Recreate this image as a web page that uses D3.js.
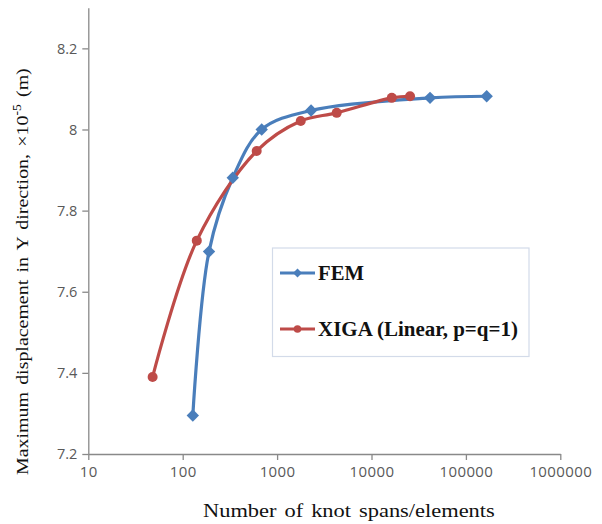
<!DOCTYPE html>
<html><head><meta charset="utf-8">
<script src="https://cdn.jsdelivr.net/npm/d3@7"></script>
<style>body{margin:0;background:#fff}svg{display:block}</style>
</head><body>
<script>
const femX = [128, 190, 339, 687, 2290, 41700, 166000];
const femY = [7.295, 7.699, 7.881, 8.000, 8.047, 8.078, 8.082];
const xigaX = [48, 141, 608, 1780, 4280, 16400, 25600];
const xigaY = [7.390, 7.726, 7.947, 8.021, 8.041, 8.078, 8.082];
const xTicks = [10, 100, 1000, 10000, 100000, 1000000];
const yTicks = [7.2, 7.4, 7.6, 7.8, 8.0, 8.2];
const seriesNames = ["FEM", "XIGA (Linear, p=q=1)"];
const colors = ["#4a7ebb", "#be4b48"];

const W = 602, H = 524;
const svg = d3.select("body").append("svg").attr("width", W).attr("height", H);
const x = d3.scaleLog().domain([10, 1000000]).range([88.3, 560.3]);
const y = d3.scaleLinear().domain([7.2, 8.3]).range([454, 7.8]);
const axisColor = "#898989";
const serif = "Liberation Serif, Times New Roman, serif";

// Y axis
const ya = svg.append("g").attr("transform", "translate(88.3,0)")
  .call(d3.axisLeft(y).tickValues(yTicks).tickSize(6).tickSizeOuter(0)
    .tickFormat(d => d === 8 ? "8" : d3.format(".1f")(d)));
ya.select(".domain").attr("stroke", axisColor).attr("stroke-width", 1.3);
ya.selectAll(".tick line").attr("stroke", axisColor).attr("stroke-width", 1.3);
ya.selectAll(".tick text").attr("fill", "#595959").attr("font-family", "Open Sans, sans-serif")
  .attr("font-size", 14.5).attr("x", -11);

// X axis
const xa = svg.append("g").attr("transform", "translate(0,454)")
  .call(d3.axisBottom(x).tickValues(xTicks).tickSize(6).tickSizeOuter(0).tickFormat(d3.format("d")));
xa.select(".domain").attr("stroke", axisColor).attr("stroke-width", 1.3);
xa.selectAll(".tick line").attr("stroke", axisColor).attr("stroke-width", 1.3);
xa.selectAll(".tick text").attr("fill", "#595959").attr("font-family", "Open Sans, sans-serif")
  .attr("font-size", 15).attr("y", 12).attr("letter-spacing", 0.4);

// stretch text horizontally (along its run) to a target length
function fitScale(sel, target) {
  const len = sel.node().getComputedTextLength();
  sel.attr("transform", `scale(${target / len},1)`);
}

// Titles
const xg = svg.append("g").attr("transform", "translate(203,517)");
const xt = xg.append("text").attr("font-family", serif).attr("font-size", 19)
  .attr("fill", "#111").attr("word-spacing", 2).text("Number of knot spans/elements");
fitScale(xt, 292);

const yg = svg.append("g").attr("transform", "translate(27.5,475) rotate(-90)");
const yt = yg.append("text").attr("font-family", serif).attr("font-size", 17.5)
  .attr("fill", "#111").attr("word-spacing", 2);
yt.append("tspan").text("Maximum displacement in Y direction, \u00d710");
yt.append("tspan").attr("dy", -7).attr("font-size", 12).text("-5");
yt.append("tspan").attr("dy", 7).text(" (m)");
fitScale(yt, 407);

// Lines
const line = d3.line().x(d => x(d[0])).y(d => y(d[1])).curve(d3.curveCatmullRom.alpha(0.5));
const femData = femX.map((v, i) => [v, femY[i]]);
const xigaData = xigaX.map((v, i) => [v, xigaY[i]]);

const diamond = (s) => `M0,${-s}L${s},0L0,${s}L${-s},0Z`;

svg.append("path").datum(femData).attr("d", line).attr("fill", "none")
  .attr("stroke", colors[0]).attr("stroke-width", 3.2);
svg.append("path").datum(xigaData).attr("d", line).attr("fill", "none")
  .attr("stroke", colors[1]).attr("stroke-width", 3.2);

svg.append("g").selectAll("path").data(femData).join("path")
  .attr("transform", d => `translate(${x(d[0])},${y(d[1])})`)
  .attr("d", diamond(6.2)).attr("fill", colors[0]);
svg.append("g").selectAll("circle").data(xigaData).join("circle")
  .attr("cx", d => x(d[0])).attr("cy", d => y(d[1])).attr("r", 5).attr("fill", colors[1]);

// Legend
const lg = svg.append("g");
lg.append("rect").attr("x", 272.5).attr("y", 248).attr("width", 256.5).attr("height", 108.5)
  .attr("fill", "#fff").attr("stroke", "#d3dbe9").attr("stroke-width", 1.2);
const ly = [273, 329];
const legendW = [46, 200];
seriesNames.forEach((n, i) => {
  lg.append("line").attr("x1", 280).attr("x2", 315).attr("y1", ly[i]).attr("y2", ly[i])
    .attr("stroke", colors[i]).attr("stroke-width", 3);
  if (i === 0) lg.append("path").attr("transform", `translate(297.5,${ly[i]})`).attr("d", diamond(4.5)).attr("fill", colors[i]);
  else lg.append("circle").attr("cx", 297.5).attr("cy", ly[i]).attr("r", 3.8).attr("fill", colors[i]);
  const g = lg.append("g").attr("transform", `translate(318,${ly[i] + 7})`);
  const t = g.append("text").attr("font-family", serif).attr("font-weight", "bold")
    .attr("font-size", 20).attr("fill", "#111").text(n);
  fitScale(t, legendW[i]);
});
</script>
</body></html>
